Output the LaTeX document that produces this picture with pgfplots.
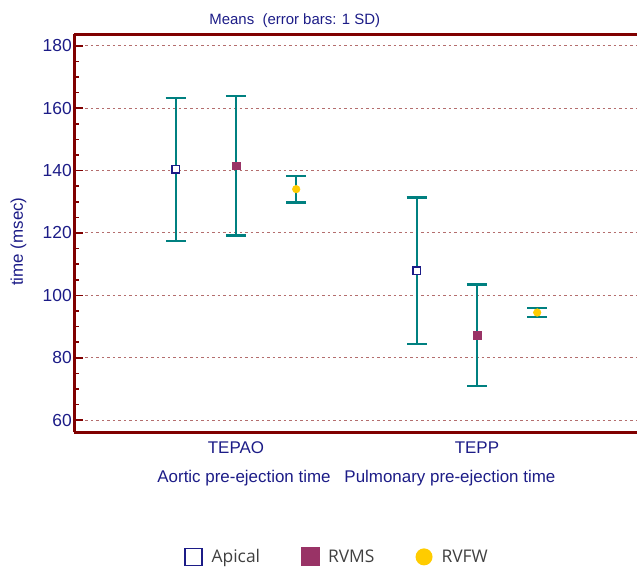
\documentclass[border=0pt]{standalone}
\usepackage{fontspec}
\setmainfont{Liberation Sans}
\newfontfamily\legfont{Open Sans}
\usepackage{pgfplots}
\pgfplotsset{compat=1.18}
\definecolor{navytxt}{RGB}{28,28,135}
\definecolor{axred}{RGB}{128,0,0}
\definecolor{gridred}{RGB}{180,110,110}
\definecolor{ebteal}{RGB}{0,128,128}
\definecolor{rvms}{RGB}{153,51,102}
\definecolor{rvfw}{RGB}{255,204,0}
\definecolor{legtxt}{RGB}{64,64,64}
\pgfplotsset{eb/.style={error bars/.cd, y dir=both, y explicit,
    error bar style={ebteal, line width=2.2bp},
    error mark options={ebteal, rotate=90, mark size=10bp, line width=2.2bp}}}
\begin{document}
\begin{tikzpicture}
\useasboundingbox (-74.5bp,-135.7bp) rectangle (562.5bp,432.3bp);
\begin{axis}[
  at={(0,0)}, anchor=south west,
  scale only axis, width=562bp, height=398bp,
  xmin=-0.670, xmax=1.662, ymin=56.1, ymax=183.7,
  clip=false,
  axis x line*=box, axis y line*=left,
  axis line style={axred, line width=2.5bp},
  xtick={0,1}, xticklabels={TEPAO,TEPP},
  xtick style={draw=none},
  x tick label style={anchor=base, yshift=-20.7bp, font=\fontsize{17}{20}\selectfont, text=navytxt},
  ytick={60,80,...,180}, minor ytick={65,70,75,85,90,95,105,110,115,125,130,135,145,150,155,165,170,175},
  ytick pos=left, tick align=inside,
  major tick length=9bp, minor tick length=5bp,
  ytick style={axred, line width=1.6bp},
  minor y tick style={axred, line width=1.6bp},
  y tick label style={font=\fontsize{17.5}{20}\selectfont, text=navytxt, inner sep=1bp, xshift=-1.5bp},
  /pgf/number format/assume math mode=true,
  ymajorgrids, major grid style={gridred, line width=1bp, dash pattern=on 2.5bp off 3bp},
  ylabel={time (msec)},
  ylabel style={at={(axis description cs:0,0.479)}, rotate=0, anchor=center, yshift=56bp, font=\fontsize{17}{20}\selectfont, text=navytxt},
  legend columns=3,
  legend style={draw=none, fill=none, at={(axis description cs:0.467,-0.313)}, anchor=center,
    font=\legfont\fontsize{17.5}{20}\selectfont, text=legtxt,
    /tikz/every even column/.append style={column sep=39bp}},
  legend cell align=left,
]
\addplot[only marks, mark=square*, mark size=3.8bp, mark options={draw=navytxt, fill=white, line width=1.6bp},
  legend image code/.code={\node[draw=navytxt, line width=1.5bp, fill=white, minimum size=17bp, inner sep=0pt] at (9bp,0) {};}, eb]
  coordinates {(-0.25,140.4) +- (0,22.9) (0.75,107.9) +- (0,23.5)};
\addlegendentry{\hspace{7bp}Apical}
\addplot[only marks, mark=square*, mark size=3.8bp, mark options={draw=rvms, fill=rvms, line width=0.5bp},
  legend image code/.code={\node[fill=rvms, minimum size=19bp, inner sep=0pt] at (9bp,0) {};}, eb]
  coordinates {(0,141.6) +- (0,22.4) (1,87.2) +- (0,16.3)};
\addlegendentry{\hspace{6bp}RVMS}
\addplot[only marks, mark=*, mark size=3.8bp, mark options={draw=rvfw, fill=rvfw, line width=0.5bp},
  legend image code/.code={\node[circle, fill=rvfw, minimum size=17bp, inner sep=0pt] at (9bp,0) {};}, eb]
  coordinates {(0.25,134.05) +- (0,4.25) (1.25,94.5) +- (0,1.35)};
\addlegendentry{\hspace{7bp}RVFW}
\node[anchor=base, text=navytxt, font=\fontsize{15}{18}\selectfont, yshift=10bp] at (axis description cs:0.392,1) {Means\ \ (error bars: 1 SD)};
\node[anchor=base, text=navytxt, font=\fontsize{17}{20}\selectfont, yshift=-49.7bp] at (axis description cs:0.3016,0) {Aortic pre-ejection time};
\node[anchor=base, text=navytxt, font=\fontsize{17}{20}\selectfont, yshift=-49.7bp] at (axis description cs:0.668,0) {Pulmonary pre-ejection time};
\end{axis}
\end{tikzpicture}
\end{document}
